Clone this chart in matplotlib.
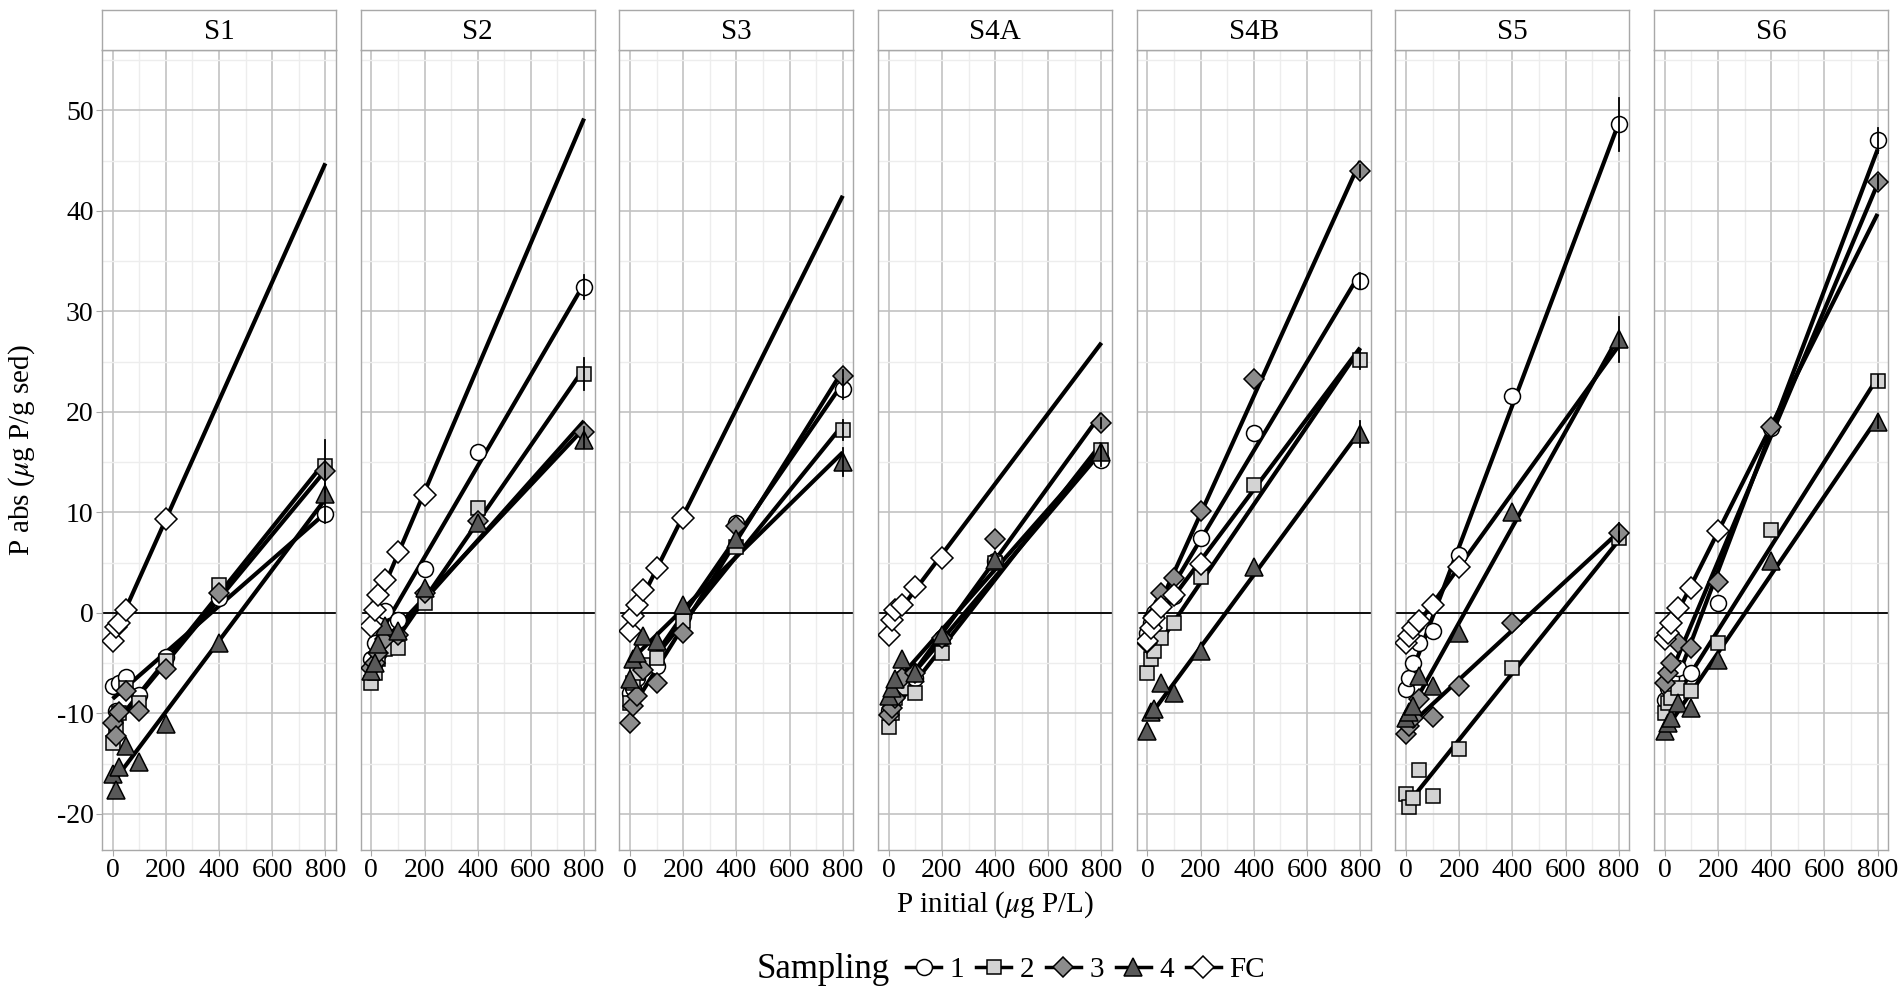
import numpy as np
import matplotlib
matplotlib.use("Agg")
import matplotlib.pyplot as plt
from matplotlib.lines import Line2D

# data
x_conc = [0, 12.5, 25, 50, 100, 200, 400, 800]
panels = ['S1', 'S2', 'S3', 'S4A', 'S4B', 'S5', 'S6']
samplings = ['1', '2', '3', '4', 'FC']

nan = np.nan
s1_1 = [-7.3, -9.8, -7.0, -6.4, -8.2, -4.4, 1.5, 9.8]
s1_2 = [-13.0, -11.5, -10.0, -7.5, -9.0, -4.8, 2.8, 14.6]
s1_3 = [-11.0, -12.3, -9.9, -7.8, -9.8, -5.6, 2.0, 14.1]
s1_4 = [-16.0, -17.6, -15.3, -13.3, -14.8, -11.1, -3.0, 11.8]
s1_fc = [-2.8, -1.4, -1.0, 0.3, nan, 9.3, nan, nan]

s2_1 = [-4.6, -3.0, -1.0, 0.2, -0.7, 4.4, 16.0, 32.4]
s2_2 = [-7.0, -6.0, -4.6, -3.6, -3.5, 1.0, 10.4, 23.8]
s2_3 = [-5.5, -5.0, -4.0, -2.6, -2.2, 2.0, 9.1, 18.0]
s2_4 = [-5.8, -5.0, -3.1, -1.3, -1.8, 2.5, 8.9, 17.2]
s2_fc = [-1.3, 0.3, 1.8, 3.3, 6.1, 11.7, nan, nan]

s3_1 = [-8.0, -7.5, -6.5, -5.5, -5.3, -0.3, 8.9, 22.3]
s3_2 = [-9.0, -7.0, -6.0, -5.2, -4.5, -0.8, 6.5, 18.2]
s3_3 = [-11.0, -9.3, -8.3, -5.7, -7.0, -2.0, 8.6, 23.6]
s3_4 = [-6.6, -4.6, -4.0, -2.3, -2.8, 0.8, 7.3, 15.0]
s3_fc = [-1.8, -0.3, 0.8, 2.3, 4.5, 9.4, nan, nan]

s4a_1 = [-9.8, -9.0, -8.0, -6.5, -6.5, -2.5, 5.2, 15.2]
s4a_2 = [-11.4, -10.0, -8.5, -7.5, -8.0, -4.0, 5.0, 16.2]
s4a_3 = [-10.2, -9.5, -8.5, -6.5, -6.0, -2.5, 7.3, 18.9]
s4a_4 = [-8.3, -7.5, -6.6, -4.6, -6.0, -2.2, 5.3, 16.0]
s4a_fc = [-2.2, -0.7, 0.3, 0.8, 2.6, 5.5, nan, nan]

s4b_1 = [-2.0, -1.0, 0.0, 0.8, 1.7, 7.4, 17.9, 33.0]
s4b_2 = [-6.0, -4.6, -3.8, -2.5, -1.0, 3.6, 12.7, 25.2]
s4b_3 = [-3.0, -1.5, -0.3, 2.0, 3.5, 10.1, 23.3, 44.0]
s4b_4 = [-11.8, -9.9, -9.6, -7.0, -8.0, -3.8, 4.6, 17.8]
s4b_fc = [-2.8, -1.5, -0.5, 0.6, 1.8, 4.9, nan, nan]

s5_1 = [-7.6, -6.5, -5.0, -3.0, -1.8, 5.8, 21.6, 48.6]
s5_2 = [-18.0, -19.3, -18.4, -15.6, -18.2, -13.6, -5.5, 7.4]
s5_3 = [-12.1, -11.3, -10.5, -8.6, -10.4, -7.3, -1.0, 7.9]
s5_4 = [-10.5, -9.9, -9.3, -6.3, -7.3, -2.0, 10.0, 27.2]
s5_fc = [-3.0, -2.3, -1.5, -0.8, 0.8, 4.6, nan, nan]

s6_1 = [-8.7, -7.5, -6.5, -5.5, -6.0, 1.0, 18.4, 47.0]
s6_2 = [-10.0, -9.0, -8.5, -7.5, -7.8, -3.0, 8.2, 23.1]
s6_3 = [-7.0, -6.0, -5.0, -3.0, -3.5, 3.1, 18.5, 42.9]
s6_4 = [-11.8, -11.0, -10.5, -9.0, -9.5, -4.7, 5.2, 19.0]
s6_fc = [-2.6, -2.0, -1.0, 0.5, 2.5, 8.1, nan, nan]

# error bar half-widths at 800 (samplings 1..4)
err800_s1 = [0.9, 2.6, 0.6, 1.0]
err800_s2 = [1.2, 1.6, 0.5, 0.8]
err800_s3 = [1.0, 1.0, 0.6, 1.4]
err800_s4a = [0.6, 0.6, 0.5, 0.8]
err800_s4b = [0.8, 0.9, 0.6, 1.3]
err800_s5 = [2.6, 0.6, 1.0, 2.2]
err800_s6 = [1.2, 0.6, 0.7, 0.6]

data = {
    'S1': [s1_1, s1_2, s1_3, s1_4, s1_fc],
    'S2': [s2_1, s2_2, s2_3, s2_4, s2_fc],
    'S3': [s3_1, s3_2, s3_3, s3_4, s3_fc],
    'S4A': [s4a_1, s4a_2, s4a_3, s4a_4, s4a_fc],
    'S4B': [s4b_1, s4b_2, s4b_3, s4b_4, s4b_fc],
    'S5': [s5_1, s5_2, s5_3, s5_4, s5_fc],
    'S6': [s6_1, s6_2, s6_3, s6_4, s6_fc],
}
errs = {'S1': err800_s1, 'S2': err800_s2, 'S3': err800_s3, 'S4A': err800_s4a,
        'S4B': err800_s4b, 'S5': err800_s5, 'S6': err800_s6}

# styles
markers = ['o', 's', 'D', '^', 'D']
fills = ['white', '#D3D3D3', '#8C8C8C', '#595959', 'white']
msizes = [11.5, 10.5, 10.5, 12.5, 11.5]

plt.rcParams['font.family'] = ['Liberation Serif', 'DejaVu Serif']
plt.rcParams['mathtext.fontset'] = 'stix'

fig = plt.figure(figsize=(19, 9.9), dpi=100)

left0 = 102 / 1900
width = 234 / 1900
step = 258.7 / 1900
bottom = 1 - 850 / 990
height = 800 / 990
strip_h = 40 / 990

x = np.array(x_conc)
grid_major = '#C2C2C2'
grid_minor = '#EDEDED'
border = '#A8A8A8'

for i, p in enumerate(panels):
    ax = fig.add_axes([left0 + i * step, bottom, width, height])
    ax.set_xlim(-40, 840)
    ax.set_ylim(-23.6, 56)
    ax.set_xticks([0, 200, 400, 600, 800])
    ax.set_xticks([100, 300, 500, 700], minor=True)
    ax.set_yticks([-20, -10, 0, 10, 20, 30, 40, 50])
    ax.set_yticks(np.arange(-15, 56, 10), minor=True)
    ax.grid(which='major', color=grid_major, linewidth=1.2)
    ax.grid(which='minor', color=grid_minor, linewidth=1.0)
    ax.set_axisbelow(True)
    for sp in ax.spines.values():
        sp.set_color(border)
        sp.set_linewidth(1.0)
    ax.tick_params(axis='x', which='major', labelsize=20, color=border, length=4, pad=2)
    ax.tick_params(axis='both', which='minor', length=0)
    if i == 0:
        ax.tick_params(axis='y', which='major', labelsize=20, color=border, length=4, pad=2)
        ax.set_yticklabels(['-20', '-10', '0', '10', '20', '30', '40', '50'])
    else:
        ax.tick_params(axis='y', which='major', length=0, labelleft=False)

    ax.axhline(0, color='black', linewidth=1.3, zorder=2)

    series = data[p]
    # regression lines over the full range
    for k, y in enumerate(series):
        y = np.array(y, dtype=float)
        ok = ~np.isnan(y)
        b, a = np.polyfit(x[ok], y[ok], 1)
        xx = np.array([0, 800])
        ax.plot(xx, a + b * xx, color='black', linewidth=3.0, zorder=3,
                solid_capstyle='butt')
    # error bars at 800
    for k in range(4):
        y800 = series[k][-1]
        e = errs[p][k]
        ax.plot([800, 800], [y800 - e, y800 + e], color='black', linewidth=1.3, zorder=5)
    # points
    for k, y in enumerate(series):
        ax.plot(x, y, linestyle='none', marker=markers[k], markersize=msizes[k],
                markerfacecolor=fills[k], markeredgecolor='black',
                markeredgewidth=1.1, zorder=4)

    # strip
    sax = fig.add_axes([left0 + i * step, bottom + height, width, strip_h])
    sax.set_xticks([])
    sax.set_yticks([])
    for sp in sax.spines.values():
        sp.set_color(border)
        sp.set_linewidth(1.0)
    sax.text(0.5, 0.45, p, ha='center', va='center', fontsize=21, transform=sax.transAxes)

fig.text(995 / 1900, 1 - 905 / 990, r'P initial ($\mu$g P/L)', ha='center', va='center', fontsize=21)
fig.text(22 / 1900, bottom + height / 2, r'P abs ($\mu$g P/g sed)', ha='center', va='center',
         rotation=90, fontsize=21)

handles = []
for k in range(5):
    handles.append(Line2D([0], [0], color='black', linewidth=2.5, marker=markers[k],
                          markersize=msizes[k], markerfacecolor=fills[k],
                          markeredgecolor='black', markeredgewidth=1.1))
fig.text(757 / 1900, 1 - 970 / 990, 'Sampling', ha='left', va='center', fontsize=25)
fig.legend(handles, samplings, loc='center left', bbox_to_anchor=(906 / 1900, 1 - 970 / 990),
           ncol=5, frameon=False, fontsize=21, handlelength=1.2, handletextpad=0.3,
           columnspacing=0.4, borderpad=0, borderaxespad=0)

fig.savefig('out.png', dpi=100)
